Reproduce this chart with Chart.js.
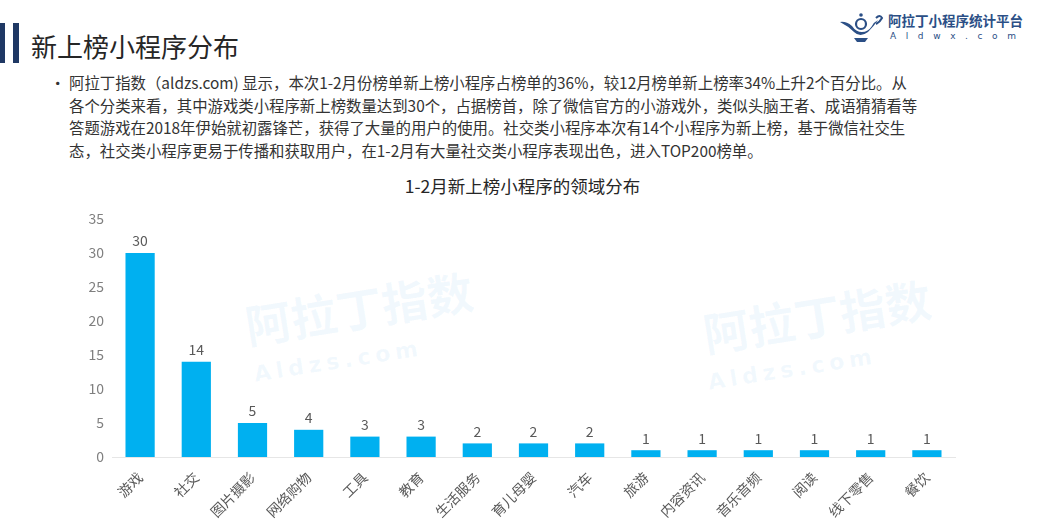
<!DOCTYPE html>
<html>
<head>
<meta charset="utf-8">
<script src="https://cdn.jsdelivr.net/npm/chart.js@4.4.1/dist/chart.umd.min.js"></script>
<style>
  html, body { margin: 0; padding: 0; background: #fff; }
  body { width: 1045px; height: 530px; position: relative; overflow: hidden;
         font-family: "Noto Sans CJK SC", "Noto Sans", sans-serif; color: #333; }
  .bar1 { position: absolute; left: 0; top: 23px; width: 5px; height: 40px; background: #1f3864; }
  .bar2 { position: absolute; left: 13px; top: 23px; width: 6px; height: 40px; background: #1f3864; }
  .title { position: absolute; left: 31px; top: 28px; font-size: 26px; line-height: 36px; color: #262626; }
  .logo { position: absolute; left: 838px; top: 8px; width: 200px; height: 40px; }
  .logo .name { position: absolute; left: 50px; top: 2px; font-size: 13.5px; font-weight: bold; color: #2b4f86; white-space: nowrap; }
  .logo .site { position: absolute; left: 52px; top: 23px; font-size: 9px; letter-spacing: 9.6px; color: #2b4f86; font-family: "DejaVu Sans", sans-serif; white-space: nowrap; }
  .logo svg { position: absolute; left: 0; top: 2px; }
  .para { position: absolute; left: 49px; top: 71px; font-size: 15.4px; line-height: 22.7px; color: #333; white-space: nowrap; }
  .para .dot { position: absolute; left: 1px; top: 0; }
  .para .txt { position: absolute; left: 20px; top: 0; }
  .ctitle { position: absolute; left: 0; width: 1045px; text-align: center; top: 173px; font-size: 17.5px; color: #262626; }
  .wm { position: absolute; color: rgba(110, 185, 235, 0.09); font-weight: bold; white-space: nowrap; transform: rotate(-9deg); transform-origin: left top; }
  .wm.big { font-size: 46px; }
  .wm.small { font-size: 22px; letter-spacing: 5px; font-family: "DejaVu Sans", sans-serif; }
  #wrap { position: absolute; left: 0; top: 170px; width: 1045px; height: 360px; }
</style>
</head>
<body>
<div class="bar1"></div><div class="bar2"></div>
<div class="title">新上榜小程序分布</div>

<div class="logo">
  <svg width="46" height="34" viewBox="0 0 46 34">
    <path d="M2 12 Q10 16 16 22 Q22 28 30 22 Q36 16 40 10 Q36 12 34 16 Q30 22 24 22 Q18 22 14 16 Q8 11 2 12 Z" fill="#2b4f86"/>
    <circle cx="23" cy="14" r="5" fill="none" stroke="#2b4f86" stroke-width="2.2"/>
    <circle cx="23" cy="5" r="1.8" fill="#2b4f86"/>
    <path d="M16 28 L30 28 L27 32 L19 32 Z" fill="#2b4f86"/>
    <path d="M38 8 Q42 4 44 8 Q42 12 38 14" fill="none" stroke="#2b4f86" stroke-width="2"/>
  </svg>
  <div class="name">阿拉丁小程序统计平台</div>
  <div class="site">Aldwx.com</div>
</div>

<div class="para">
  <div class="dot">•</div>
  <div class="txt">阿拉丁指数（aldzs.com) 显示，本次1-2月份榜单新上榜小程序占榜单的36%，较12月榜单新上榜率34%上升2个百分比。从<br>各个分类来看，其中游戏类小程序新上榜数量达到30个，占据榜首，除了微信官方的小游戏外，类似头脑王者、成语猜猜看等<br>答题游戏在2018年伊始就初露锋芒，获得了大量的用户的使用。社交类小程序本次有14个小程序为新上榜，基于微信社交生<br>态，社交类小程序更易于传播和获取用户，在1-2月有大量社交类小程序表现出色，进入TOP200榜单。</div>
</div>

<div class="ctitle">1-2月新上榜小程序的领域分布</div>

<div class="wm big" style="left:240px; top:292px;">阿拉丁指数</div>
<div class="wm small" style="left:252px; top:362px;">Aldzs.com</div>
<div class="wm big" style="left:698px; top:300px;">阿拉丁指数</div>
<div class="wm small" style="left:706px; top:370px;">Aldzs.com</div>

<div id="wrap"><canvas id="chart"></canvas></div>

<script>
// 领域分类与新上榜数量
const categories = ["游戏", "社交", "图片摄影", "网络购物", "工具", "教育", "生活服务", "育儿母婴", "汽车",
                    "旅游", "内容资讯", "音乐音频", "阅读", "线下零售", "餐饮"];
const counts = [30, 14, 5, 4, 3, 3, 2, 2, 2, 1, 1, 1, 1, 1, 1];
const yTicks = [0, 5, 10, 15, 20, 25, 30, 35];

const FONT = '"Noto Sans CJK SC", "Noto Sans", sans-serif';

// 柱顶数值标签
const valueLabels = {
    id: "valueLabels",
    afterDatasetsDraw(chart) {
        const ctx = chart.ctx;
        const meta = chart.getDatasetMeta(0);
        ctx.save();
        ctx.fillStyle = "#595959";
        ctx.font = "14px " + FONT;
        ctx.textAlign = "center";
        ctx.textBaseline = "bottom";
        meta.data.forEach((bar, i) => {
            ctx.fillText(String(counts[i]), bar.x, bar.y - 5);
        });
        ctx.restore();
    }
};

new Chart(document.getElementById("chart"), {
    type: "bar",
    data: {
        labels: categories,
        datasets: [{
            data: counts,
            backgroundColor: "#00b0f0",
            barPercentage: 0.52,
            categoryPercentage: 1
        }]
    },
    options: {
        responsive: true,
        maintainAspectRatio: false,
        animation: false,
        layout: { padding: { left: 0, right: 90, top: 49, bottom: 0 } },
        plugins: { legend: { display: false }, tooltip: { enabled: false } },
        scales: {
            x: {
                grid: { display: false },
                border: { display: true, color: "#e6e6e6", width: 1 },
                ticks: {
                    color: "#595959",
                    font: { family: FONT, size: 14 },
                    minRotation: 45,
                    maxRotation: 45,
                    autoSkip: false,
                    padding: 4
                },
                afterFit(scale) { scale.height = 73; }
            },
            y: {
                min: yTicks[0],
                max: yTicks[yTicks.length - 1],
                grid: { display: false, drawTicks: false },
                border: { display: false },
                afterBuildTicks(scale) { scale.ticks = yTicks.map(v => ({ value: v })); },
                ticks: {
                    color: "#7f7f7f",
                    font: { family: FONT, size: 14 },
                    padding: 8
                },
                afterFit(scale) { scale.width = 112; }
            }
        }
    },
    plugins: [valueLabels]
});
</script>
</body>
</html>
